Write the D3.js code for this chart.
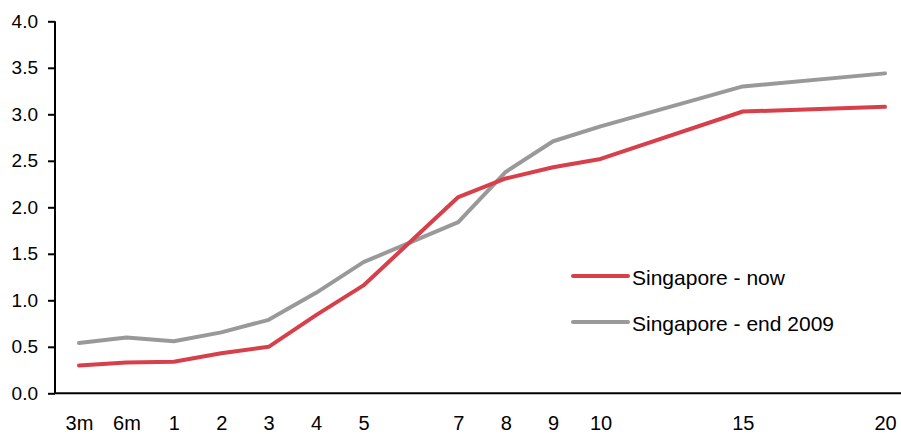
<!DOCTYPE html>
<html>
<head>
<meta charset="utf-8">
<script src="https://cdn.jsdelivr.net/npm/d3@7"></script>
<style>
  html, body { margin: 0; padding: 0; background: #fff; }
  svg { display: block; font-family: "Liberation Sans", Arial, sans-serif; }
</style>
</head>
<body>
<svg id="chart" width="901" height="434"></svg>
<script>
// Maturity slots along the x axis (blank slots keep the spacing of the original axis)
const slotLabels = ["3m", "6m", "1", "2", "3", "4", "5", "", "7", "8", "9", "10", "", "", "15", "", "", "20"];
// Maturities that carry a yield
const maturities = ["3m", "6m", "1", "2", "3", "4", "5", "7", "8", "9", "10", "15", "20"];
const yieldsNow = [0.30, 0.33, 0.34, 0.43, 0.50, 0.84, 1.16, 2.11, 2.31, 2.43, 2.52, 3.03, 3.08];
const yieldsEnd2009 = [0.54, 0.60, 0.56, 0.655, 0.79, 1.08, 1.41, 1.84, 2.38, 2.71, 2.87, 3.30, 3.44];
const yTicks = [0.0, 0.5, 1.0, 1.5, 2.0, 2.5, 3.0, 3.5, 4.0];
const seriesNames = ["Singapore - now", "Singapore - end 2009"];

const colors = ["#d7404a", "#999999"];

const svg = d3.select("#chart");
const plotLeft = 55, plotRight = 901, plotTop = 21.3, plotBottom = 393.3;
const fontFamily = "Liberation Sans, Arial, sans-serif";

const slotIndex = d3.range(slotLabels.length);
const x = d3.scalePoint().domain(slotIndex).range([79, 885]);
const y = d3.scaleLinear().domain([0, 4]).range([plotBottom, plotTop]);

const posOf = m => slotLabels.indexOf(m);

// Y axis
const yAxis = svg.append("g")
  .attr("transform", `translate(${plotLeft},0)`)
  .call(d3.axisLeft(y).tickValues(yTicks).tickFormat(d3.format(".1f")).tickSize(7).tickPadding(10));
yAxis.select(".domain").attr("stroke", "#000").attr("stroke-width", 2).attr("d", `M0,${plotTop}V${plotBottom}`);
yAxis.selectAll(".tick line").attr("stroke", "#000").attr("stroke-width", 2);
yAxis.selectAll(".tick text").attr("font-size", 19).attr("fill", "#000")
  .attr("font-family", fontFamily);

// X axis (labels only, no tick marks)
const xAxis = svg.append("g")
  .attr("transform", `translate(0,${plotBottom})`)
  .call(d3.axisBottom(x).tickFormat(i => slotLabels[i]).tickSize(0).tickPadding(0));
xAxis.select(".domain").attr("stroke", "#000").attr("stroke-width", 2).attr("d", `M${plotLeft},0H${plotRight}`);
xAxis.selectAll(".tick text").attr("font-size", 20).attr("fill", "#000")
  .attr("font-family", fontFamily)
  .attr("dy", null).attr("y", 37);

// Lines
const line = d3.line()
  .x(d => x(posOf(d.m)))
  .y(d => y(d.v));

[yieldsEnd2009, yieldsNow].forEach((vals, k) => {
  const idx = k === 0 ? 1 : 0;
  const data = maturities.map((m, i) => ({ m, v: vals[i] }));
  svg.append("path")
    .datum(data)
    .attr("fill", "none")
    .attr("stroke", colors[idx])
    .attr("stroke-width", 4)
    .attr("stroke-linecap", "round")
    .attr("stroke-linejoin", "round")
    .attr("d", line);
});

// Legend
const legend = svg.append("g");
seriesNames.forEach((name, i) => {
  const ly = 276 + i * 46;
  legend.append("line")
    .attr("x1", 573).attr("x2", 628)
    .attr("y1", ly).attr("y2", ly)
    .attr("stroke", colors[i]).attr("stroke-width", 4).attr("stroke-linecap", "round");
  legend.append("text")
    .attr("x", 632).attr("y", ly + 8.5)
    .attr("font-size", 21).attr("fill", "#000")
    .attr("font-family", fontFamily)
    .text(name);
});
</script>
</body>
</html>
